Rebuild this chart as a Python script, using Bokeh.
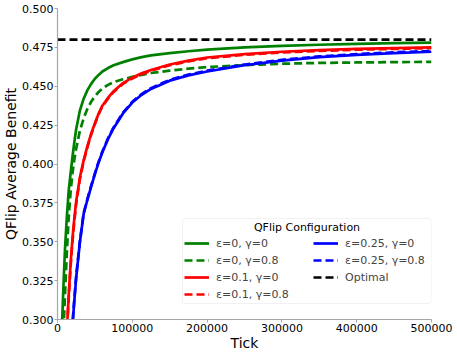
from bokeh.plotting import figure
from bokeh.models import (Range1d, FixedTicker, Legend, LegendItem, BoxAnnotation, Label)
from bokeh.embed import file_html
from bokeh.resources import INLINE

# ---------------- data ----------------
ticks = [6000, 8000, 10000, 12500, 15000, 17500, 20000, 22500, 25000, 30000, 35000,
         40000, 45000, 50000, 55000, 60000, 67500, 75000, 87500, 100000, 112500,
         125000, 150000, 175000, 200000, 250000, 300000, 350000, 400000, 450000, 500000]
eps0_gam0 = [0.296, 0.322, 0.345, 0.366, 0.383, 0.394, 0.4045, 0.414, 0.4225, 0.4345, 0.442,
             0.4475, 0.4515, 0.4548, 0.4573, 0.4595, 0.4617, 0.4635, 0.4655, 0.4673, 0.4687,
             0.4699, 0.4713, 0.4725, 0.4735, 0.4750, 0.4760, 0.4767, 0.4773, 0.4777, 0.4780]
eps0_gam08 = [0.270, 0.293, 0.316, 0.343, 0.366, 0.382, 0.394, 0.403, 0.410, 0.4215, 0.4295,
              0.4355, 0.4400, 0.4435, 0.4463, 0.4485, 0.4509, 0.4527, 0.4545, 0.4560, 0.4573,
              0.4585, 0.4600, 0.4613, 0.4623, 0.4636, 0.4645, 0.4650, 0.4653, 0.4655, 0.4657]
eps01_gam0 = [0.220, 0.245, 0.268, 0.293, 0.316, 0.336, 0.352, 0.365, 0.376, 0.3915, 0.4025,
              0.4115, 0.4195, 0.4262, 0.4325, 0.4375, 0.4425, 0.4468, 0.4520, 0.4555, 0.4583,
              0.4605, 0.4640, 0.4665, 0.4685, 0.4707, 0.4722, 0.4732, 0.4740, 0.4745, 0.4750]
eps01_gam08 = [0.218, 0.243, 0.266, 0.291, 0.314, 0.334, 0.350, 0.363, 0.3745, 0.3905, 0.4017,
               0.4108, 0.4189, 0.4257, 0.4320, 0.4370, 0.4420, 0.4463, 0.4515, 0.4550, 0.4578,
               0.4600, 0.4635, 0.4660, 0.4680, 0.4702, 0.4717, 0.4727, 0.4735, 0.4740, 0.4745]
eps025_gam0 = [0.160, 0.185, 0.210, 0.236, 0.259, 0.280, 0.296, 0.312, 0.327, 0.350, 0.368,
               0.377, 0.3855, 0.3935, 0.4010, 0.4075, 0.4160, 0.4230, 0.4325, 0.4395, 0.4445,
               0.4483, 0.4536, 0.4570, 0.4595, 0.4635, 0.4665, 0.4687, 0.4702, 0.4713, 0.4722]
eps025_gam08 = [0.161, 0.186, 0.211, 0.237, 0.260, 0.281, 0.297, 0.313, 0.328, 0.3505, 0.3685,
                0.3775, 0.3860, 0.3940, 0.4015, 0.4080, 0.4165, 0.4235, 0.4330, 0.4400, 0.4450,
                0.4488, 0.4541, 0.4575, 0.4600, 0.4640, 0.4670, 0.4692, 0.4707, 0.4718, 0.4727]
optimal_x = [0, 500000]
optimal_y = [0.48, 0.48]

x_ticks = [0, 100000, 200000, 300000, 400000, 500000]
x_tick_labels = ["0", "100000", "200000", "300000", "400000", "500000"]
y_ticks = [0.300, 0.325, 0.350, 0.375, 0.400, 0.425, 0.450, 0.475, 0.500]
y_tick_labels = ["0.300", "0.325", "0.350", "0.375", "0.400", "0.425", "0.450", "0.475", "0.500"]

series_labels = ["ε=0, γ=0", "ε=0, γ=0.8", "ε=0.1, γ=0", "ε=0.1, γ=0.8",
                 "ε=0.25, γ=0", "ε=0.25, γ=0.8", "Optimal"]
legend_title = "QFlip Configuration"

# ---------------- figure ----------------
FONT = "DejaVu Sans"
AX = "#a6a6a6"
p = figure(width=457, height=354, output_backend="svg", toolbar_location=None,
           x_range=Range1d(0, 500000), y_range=Range1d(0.3, 0.5),
           min_border_left=56, min_border_right=26, min_border_top=8, min_border_bottom=35)
p.outline_line_color = None
p.grid.visible = False
p.background_fill_color = "white"

for ax in (p.xaxis[0], p.yaxis[0]):
    ax.axis_line_color = AX
    ax.axis_line_width = 1.2
    ax.major_tick_line_color = AX
    ax.major_tick_out = 3
    ax.major_tick_in = 0
    ax.minor_tick_line_color = None
    ax.major_label_text_font = FONT
    ax.major_label_text_font_size = "11px"
    ax.major_label_text_color = "black"
    ax.axis_label_text_font = FONT
    ax.axis_label_text_font_size = "14px"
    ax.axis_label_text_font_style = "normal"
    ax.axis_label_text_color = "black"
    ax.major_label_standoff = 1

p.xaxis.ticker = FixedTicker(ticks=x_ticks)
p.xaxis.major_label_overrides = dict(zip(x_ticks, x_tick_labels))
p.yaxis.ticker = FixedTicker(ticks=y_ticks)
p.yaxis.major_label_overrides = dict(zip(y_ticks, y_tick_labels))
p.xaxis.axis_label = "Tick"
p.yaxis.axis_label = "QFlip Average Benefit"
p.xaxis.axis_label_standoff = 0
p.yaxis.axis_label_standoff = 0

LW = 2.7
DASH = "8 4"
r1 = p.line(ticks, eps0_gam0, line_color="#008000", line_width=LW)
r2 = p.line(ticks, eps0_gam08, line_color="#008000", line_width=LW, line_dash=DASH)
r3 = p.line(ticks, eps01_gam0, line_color="#ff0000", line_width=LW)
r4 = p.line(ticks, eps01_gam08, line_color="#ff0000", line_width=LW, line_dash=DASH)
r5 = p.line(ticks, eps025_gam0, line_color="#0000ff", line_width=LW)
r6 = p.line(ticks, eps025_gam08, line_color="#0000ff", line_width=LW, line_dash=DASH)
r7 = p.line(optimal_x, optimal_y, line_color="black", line_width=LW, line_dash=DASH)
rends = [r1, r2, r3, r4, r5, r6, r7]

# legend frame + centred title
box = BoxAnnotation(left=125, right=374, bottom=16, top=101,
                    left_units="screen", right_units="screen",
                    bottom_units="screen", top_units="screen",
                    fill_color="white", fill_alpha=0.8,
                    line_color="#d0d0d0", line_width=1, border_radius=3)
p.add_layout(box)
p.add_layout(Label(x=249.5, y=92, x_units="screen", y_units="screen", text=legend_title,
                   text_align="center", text_baseline="middle",
                   text_font=FONT, text_font_size="11px", text_color="black"))

def make_legend(idx, loc):
    lg = Legend(items=[LegendItem(label=series_labels[i], renderers=[rends[i]]) for i in idx],
                location=loc, orientation="vertical", padding=0, margin=0, spacing=3,
                glyph_width=25, glyph_height=14, label_height=14, label_standoff=7,
                label_text_font=FONT, label_text_font_size="11px",
                border_line_color=None, background_fill_alpha=0)
    return lg

p.add_layout(make_legend([0, 1, 2, 3], (127, 17.7)))
p.add_layout(make_legend([4, 5, 6], (256, 34.7)))

open("out.html", "w").write(file_html(p, INLINE))
